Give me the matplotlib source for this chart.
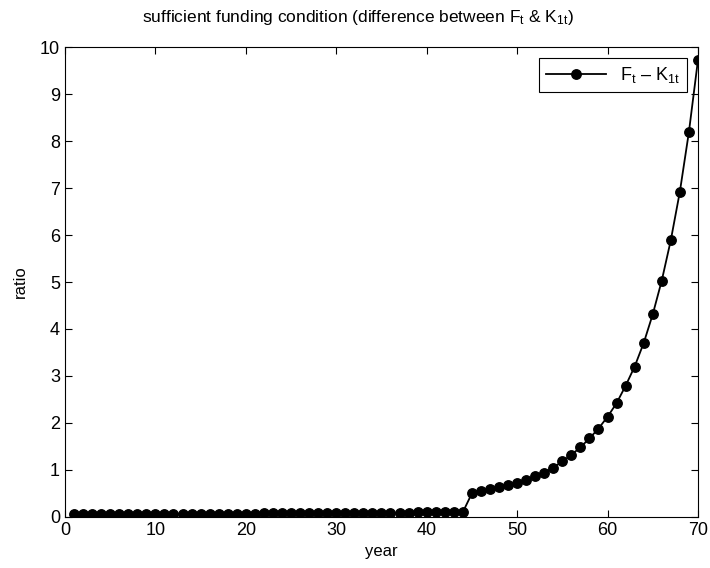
import matplotlib.pyplot as plt

plt.rcParams['font.family'] = ['Liberation Sans', 'DejaVu Sans']
plt.rcParams['mathtext.fontset'] = 'custom'
plt.rcParams['mathtext.rm'] = 'Liberation Sans'
plt.rcParams['mathtext.it'] = 'Liberation Sans'

years = list(range(1, 71))

# F_t - K_1t, years 1..44 stay near zero, jump at 45 then grow
diff = [
    0.06, 0.06, 0.06, 0.06, 0.06, 0.06, 0.06, 0.06, 0.06, 0.06,
    0.06, 0.07, 0.07, 0.07, 0.07, 0.07, 0.07, 0.07, 0.07, 0.07,
    0.07, 0.08, 0.08, 0.08, 0.08, 0.08, 0.08, 0.08, 0.08, 0.08,
    0.09, 0.09, 0.09, 0.09, 0.09, 0.09, 0.09, 0.09, 0.10, 0.10,
    0.10, 0.10, 0.10, 0.10,
    0.50, 0.55, 0.59, 0.63, 0.68, 0.73, 0.79, 0.86, 0.94, 1.05,
    1.18, 1.32, 1.48, 1.67, 1.88, 2.13, 2.42, 2.79, 3.20, 3.70,
    4.31, 5.03, 5.89, 6.92, 8.19, 9.72,
]

fig = plt.figure(figsize=(7.1, 5.68), dpi=100)
ax = fig.add_axes([0.0915, 0.09, 0.8915, 0.827])

ax.plot(years, diff, color='black', linewidth=1.3, marker='o',
        markersize=6.8, label='F$_{t}$ \u2013 K$_{1t}$')

ax.set_xlim(0, 70)
ax.set_ylim(0, 10)
ax.set_xticks(range(0, 71, 10))
ax.set_yticks(range(0, 11))
ax.tick_params(direction='in', top=True, right=True, length=5,
               labelsize=13, width=0.8)
for s in ax.spines.values():
    s.set_linewidth(0.8)

ax.set_xlabel('year', fontsize=12, labelpad=4)
ax.set_ylabel('ratio', fontsize=12, labelpad=9)
ax.set_title('sufficient funding condition (difference between F$_t$ & K$_{1t}$)',
             fontsize=12.5, pad=18, x=0.463)

leg = ax.legend(loc='upper right', fontsize=13, handlelength=3.3,
                fancybox=False, framealpha=1, edgecolor='black',
                borderaxespad=0.6)
leg.get_frame().set_linewidth(0.8)

fig.savefig('out.png', dpi=100)
